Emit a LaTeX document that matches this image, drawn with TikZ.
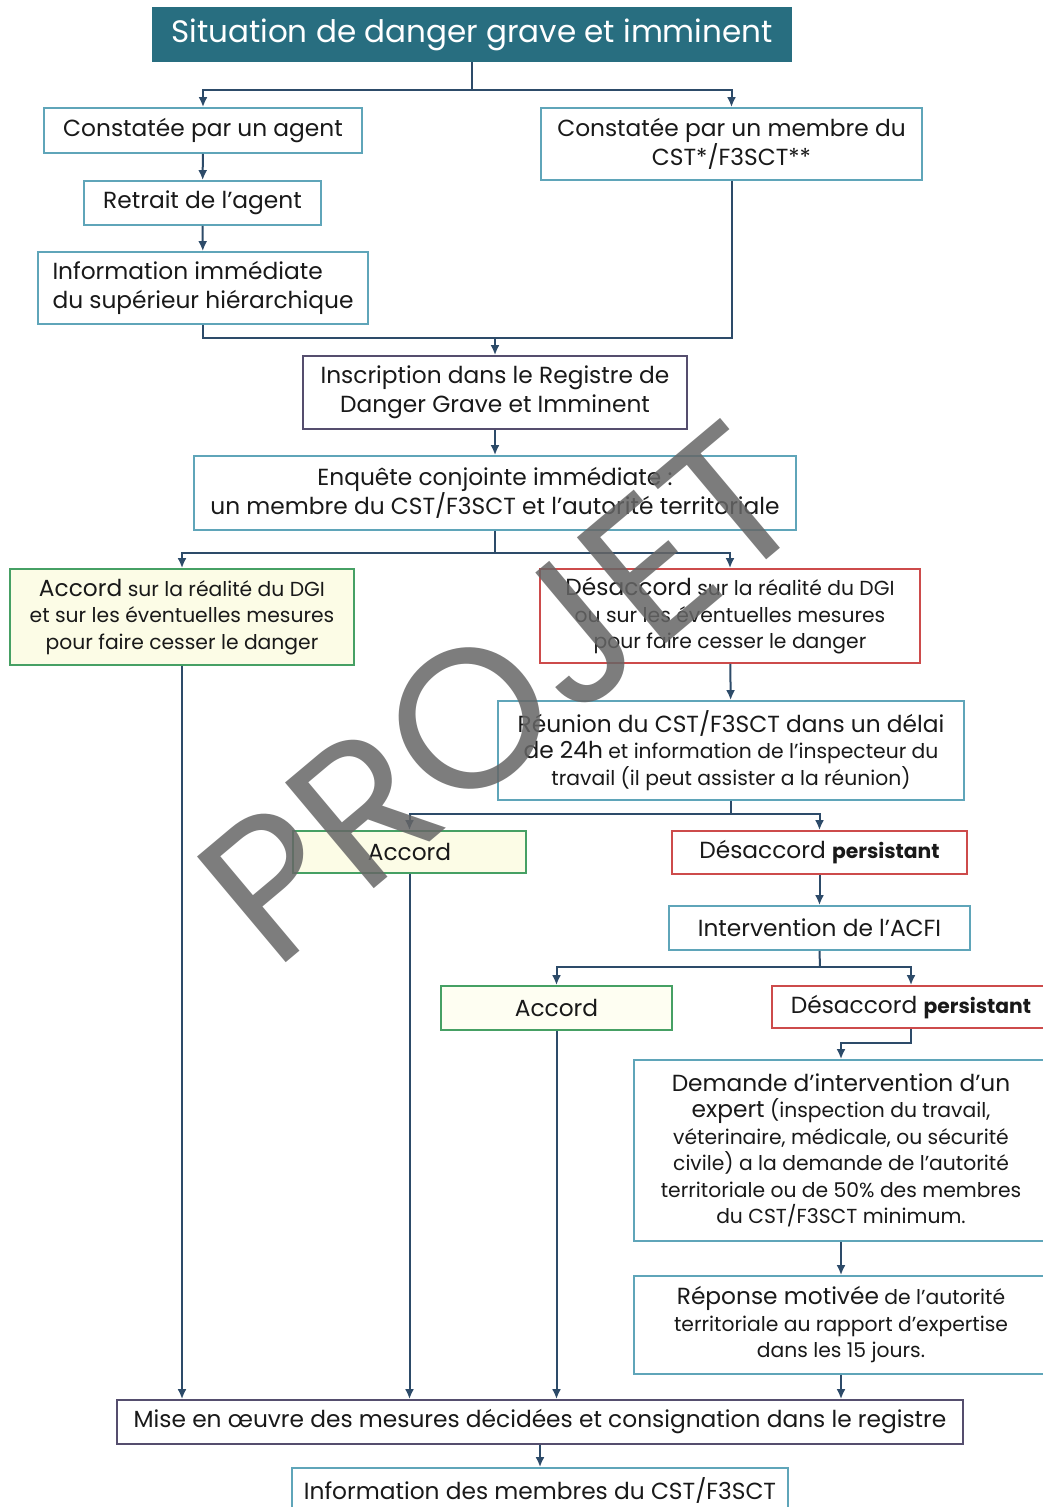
\documentclass[tikz,border=0pt]{standalone}
\usepackage{fontspec}
\setmainfont{Poppins}
\usetikzlibrary{arrows.meta}
\definecolor{tealfond}{RGB}{40,110,128}
\definecolor{lien}{RGB}{45,75,105}
\definecolor{bleu}{RGB}{95,165,185}
\definecolor{vert}{RGB}{70,160,100}
\definecolor{jaune}{RGB}{252,252,230}
\definecolor{rouge}{RGB}{205,75,75}
\definecolor{violet}{RGB}{85,78,110}
\newcommand{\grand}{\fontsize{23.3}{28.5}\selectfont}
\newcommand{\petit}{\fontsize{20.3}{26.5}\selectfont}

\begin{document}
\begin{tikzpicture}[x=1pt,y=-1pt,
    box/.style={draw=#1, line width=1.8pt, fill=white, align=center, inner sep=0pt, text=black!90},
    fleche/.style={draw=lien, line width=2pt, -{Latex[length=10pt,width=9pt]}},
    trait/.style={draw=lien, line width=2pt}]
    \useasboundingbox (0,0) rectangle (1042,1507);

    % haut
    \node [fill=tealfond, minimum width=640, minimum height=55, text=white,
        font=\fontsize{31}{33}\selectfont] (titre) at (472,34.5) {Situation de danger grave et imminent};
    \node [box=bleu, minimum width=318, minimum height=45, font=\grand] (agent) at (203,130.5) {Constatée par un agent};
    \node [box=bleu, minimum width=381, minimum height=72, font=\grand] (membre) at (731.5,144) {Constatée par un membre du\\CST*/F3SCT**};
    \node [box=bleu, minimum width=237, minimum height=44, font=\grand] (retrait) at (202.5,203) {Retrait de l’agent};
    \node [box=bleu, minimum width=330, minimum height=72, font=\grand, align=left] (info) at (203,288) {Information immédiate\\du supérieur hiérarchique};
    \node [box=violet, minimum width=384, minimum height=73, font=\grand] (registre) at (495,392.5) {Inscription dans le Registre de\\Danger Grave et Imminent};
    \node [box=bleu, minimum width=602, minimum height=74, font=\grand] (enquete) at (495,493) {Enquête conjointe immédiate :\\un membre du CST/F3SCT et l’autorité territoriale};

    % accord / desaccord
    \node [box=vert, fill=jaune, minimum width=344, minimum height=96, font=\petit] (accord1) at (182,617)
        {{\grand Accord} sur la réalité du DGI\\et sur les éventuelles mesures\\pour faire cesser le danger};
    \node [box=rouge, minimum width=380, minimum height=94, font=\petit] (desacc1) at (730,616)
        {{\grand Désaccord} sur la réalité du DGI\\ou sur les éventuelles mesures\\pour faire cesser le danger};
    \node [box=bleu, minimum width=466, minimum height=99, font=\petit] (reunion) at (731,750.5)
        {{\grand Réunion du CST/F3SCT dans un délai}\\{\grand de 24h} et information de l’inspecteur du\\travail (il peut assister a la réunion)};
    \node [box=vert, fill=jaune, minimum width=233, minimum height=42, font=\grand] (accord2) at (409.5,852) {Accord};
    \node [box=rouge, minimum width=295, minimum height=43, font=\grand] (desacc2) at (819.5,852.5) {Désaccord {\petit\bfseries persistant}};
    \node [box=bleu, minimum width=301, minimum height=44, font=\grand] (acfi) at (819.5,928) {Intervention de l’ACFI};
    \node [box=vert, fill=jaune!50!white, minimum width=231, minimum height=44, font=\grand] (accord3) at (556.5,1008) {Accord};
    \node [box=rouge, minimum width=278, minimum height=42, font=\grand] (desacc3) at (911,1007) {Désaccord {\petit\bfseries persistant}};
    \node [box=bleu, minimum width=414, minimum height=181, font=\petit] (expert) at (841,1150.5)
        {{\grand Demande d’intervention d’un}\\{\grand expert} (inspection du travail,\\véterinaire, médicale, ou sécurité\\civile) a la demande de l’autorité\\territoriale ou de 50\% des membres\\du CST/F3SCT minimum.};
    \node [box=bleu, minimum width=414, minimum height=98, font=\petit] (reponse) at (841,1325)
        {{\grand Réponse motivée} de l’autorité\\territoriale au rapport d’expertise\\dans les 15 jours.};

    % bas
    \node [box=violet, minimum width=846, minimum height=44, font=\grand] (mise) at (540,1422) {Mise en œuvre des mesures décidées et consignation dans le registre};
    \node [box=bleu, minimum width=496, minimum height=44, font=\grand] (infomembres) at (540,1490) {Information des membres du CST/F3SCT};

    % liens
    \coordinate (c1) at (472,90);
    \coordinate (c2) at (495,338);
    \coordinate (c3) at (495,553);
    \coordinate (c4) at (731,814);
    \coordinate (c5) at (820,967);
    \coordinate (c6) at (911,1043);
    \draw [trait] (titre.south) -- (c1);
    \draw [fleche] (c1) -| (agent.north);
    \draw [fleche] (c1) -| (membre.north);
    \draw [fleche] (agent) -- (retrait);
    \draw [fleche] (retrait) -- (info);
    \draw [trait] (info.south) |- (c2);
    \draw [trait] (membre.south) |- (c2);
    \draw [fleche] (c2) -- (registre.north);
    \draw [fleche] (registre) -- (enquete);
    \draw [trait] (enquete.south) -- (c3);
    \draw [fleche] (c3) -| (accord1.north);
    \draw [fleche] (c3) -| (desacc1.north);
    \draw [fleche] (desacc1) -- (reunion);
    \draw [trait] (reunion.south) -- (c4);
    \draw [fleche] (c4) -| (accord2.north);
    \draw [fleche] (c4) -| (desacc2.north);
    \draw [fleche] (desacc2) -- (acfi);
    \draw [trait] (acfi.south) -- (c5);
    \draw [fleche] (c5) -| (accord3.north);
    \draw [fleche] (c5) -| (desacc3.north);
    \draw [fleche] (desacc3.south) -- (c6) -| (expert.north);
    \draw [fleche] (expert) -- (reponse);
    \foreach \n in {accord1,accord2,accord3,reponse} {
        \draw [fleche] (\n.south) -- (\n.south |- mise.north);
    }
    \draw [fleche] (mise) -- (infomembres);

    % filigrane
    \node [rotate=40, text=black!60, opacity=0.85, font=\fontsize{198}{198}\selectfont] (projet) at (500,693) {PROJET};
\end{tikzpicture}
\end{document}
